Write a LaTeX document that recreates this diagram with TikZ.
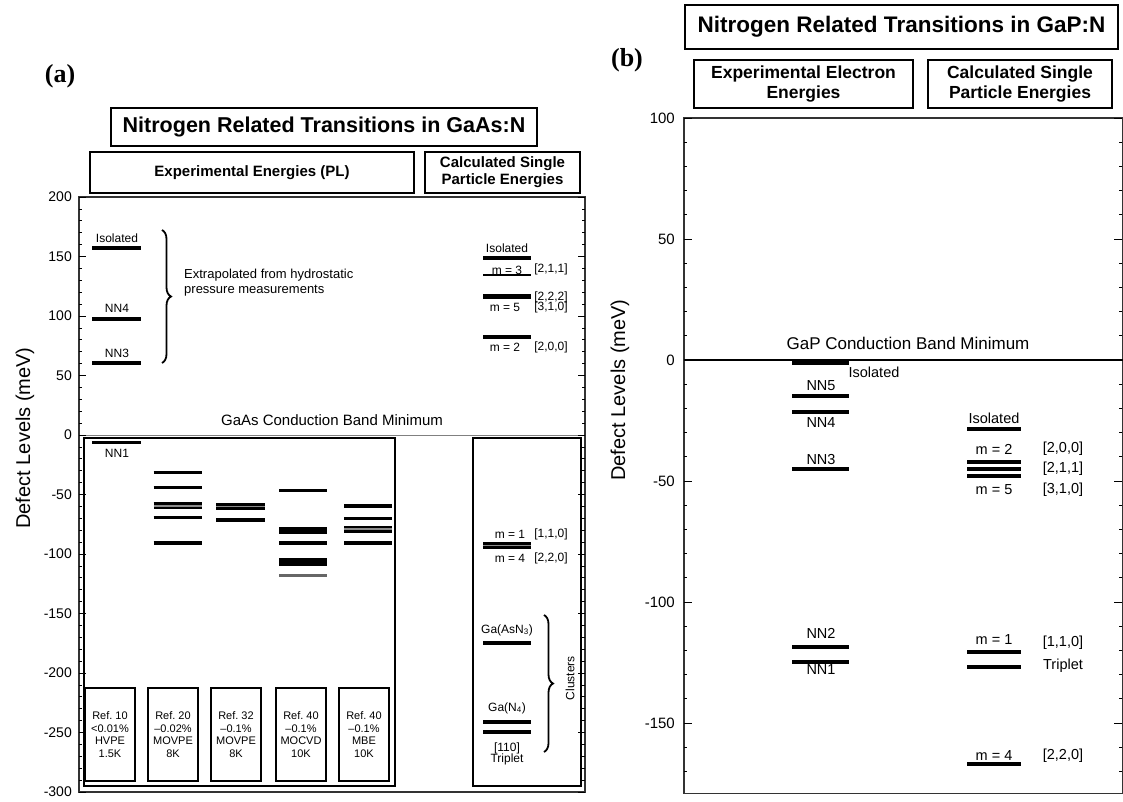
\documentclass[tikz,border=0pt]{standalone}
\usepackage{fontspec}
\setmainfont{Liberation Sans}
\newfontfamily\tagfont{Liberation Serif}
\usetikzlibrary{decorations.pathreplacing}

\begin{document}
\begin{tikzpicture}[x=1pt, y=-1pt,
            hdrbox/.style={draw, line width=1.8pt, align=center, inner sep=0pt},
            refbox/.style={draw, line width=1.5pt, minimum width=50pt, minimum height=93pt, align=center, inner sep=1pt, font=\fontsize{11}{12.5}\selectfont},
            frm/.style={draw=black!80, line width=1.3pt},
            lvl/.style={line width=3.2pt},
            lvlb/.style={line width=4pt},
            band/.style={line width=7pt},
            bandmid/.style={black!45, line width=1.2pt},
            tck/.style={line width=0.8pt},
            lab/.style={inner sep=0pt, font=\fontsize{12}{13}\selectfont},
            labb/.style={inner sep=0pt, font=\fontsize{14.5}{16}\selectfont},
            paneltag/.style={inner sep=0pt, font=\tagfont\bfseries\fontsize{26}{28}\selectfont},
            brc/.style={decorate, decoration={brace, amplitude=9pt}, line width=1.8pt}]
            \fill[white] (0,0) rectangle (1123,801);
            \useasboundingbox (0,0) rectangle (1123,801);

            \node[paneltag] (taga) at (60,76) {(a)};
            \node[hdrbox, minimum width=426pt, minimum height=38pt, font=\bfseries\fontsize{21.5}{24}\selectfont] (tita) at (324,127) {Nitrogen Related Transitions in GaAs:N};
            \node[hdrbox, minimum width=324pt, minimum height=41pt, font=\bfseries\fontsize{15}{17}\selectfont] (expa) at (252,172.5) {Experimental Energies (PL)};
            \node[hdrbox, minimum width=155pt, minimum height=41pt, font=\bfseries\fontsize{15}{17}\selectfont] (calca) at (502.5,172.5) {Calculated Single\\Particle Energies};

            \begin{scope}[shift={(0,435)}, yscale=-1.19]
            \draw[frm] (79,-300) rectangle (585,200);
            \draw[black!50, line width=1pt] (79,0) -- (585,0);
            \draw[line width=1.5pt] (84,-2.5) rectangle (395,-295);
            \draw[line width=1.5pt] (473,-2.5) rectangle (581,-295);
            \foreach \v in {-300,-290,...,200} {
                \draw[tck] (79,\v) -- (82,\v);
                \draw[tck] (585,\v) -- (582,\v);
            }
            \foreach \v in {-300,-250,...,200} {
                \draw[tck] (79,\v) -- (86,\v);
                \draw[tck] (585,\v) -- (578,\v);
                \node[anchor=east, inner sep=0pt, font=\fontsize{14}{14}\selectfont] (ya\v) at (72,\v) {\v};
            }
            \node[rotate=90, font=\fontsize{20}{20}\selectfont] (ylaba) at (25,-2.5) {Defect Levels (meV)};
            \node[font=\fontsize{15}{15}\selectfont] (cbma) at (332,12.6) {GaAs Conduction Band Minimum};
            \node[anchor=west, align=left, inner sep=0pt, font=\fontsize{13}{15}\selectfont] (extra) at (184,127.7) {Extrapolated from hydrostatic\\pressure measurements};

            \foreach \v in {157.1,97.5,60.5,-6.3} \draw[lvl] (92,\v) -- (141,\v);
            \node[lab] (isoa) at (117,165.5) {Isolated};
            \node[lab] (nn4a) at (117,106.7) {NN4};
            \node[lab] (nn3a) at (117,68.9) {NN3};
            \node[lab] (nn1a) at (117,-15.1) {NN1};

            \foreach \v in {-31.6,-43.9,-69.5,-90.7} \draw[lvl] (153.5,\v) -- (201.5,\v);
            \draw[band] (153.5,-59.6) -- (201.5,-59.6);
            \draw[bandmid] (153.5,-59.6) -- (201.5,-59.6);
            \draw[lvl] (216,-71.4) -- (264.5,-71.4);
            \draw[band] (216,-60.1) -- (264.5,-60.1);
            \draw[bandmid] (216,-60.1) -- (264.5,-60.1);
            \foreach \v in {-46.7,-90.8,-105,-108.4} \draw[lvl] (279,\v) -- (327,\v);
            \draw[band] (279,-79.9) -- (327,-79.9);
            \draw[lvl, black!60] (279,-118.2) -- (327,-118.2);
            \foreach \v in {-59.7,-70,-90.8} \draw[lvl] (344,\v) -- (392,\v);
            \draw[band] (344,-79) -- (392,-79);
            \draw[bandmid] (344,-79) -- (392,-79);

            \foreach \x/\r/\c/\m/\t in {110/10/<0.01\%/HVPE/1.5K, 173/20/--0.02\%/MOVPE/8K, 236/32/--0.1\%/MOVPE/8K, 301/40/--0.1\%/MOCVD/10K, 364/40/--0.1\%/MBE/10K}
                \node[refbox] (ref\x) at (\x,-251.7) {Ref.~\r\\\c\\\m\\\t};

            \foreach \v in {148.7,82.4,-174.8,-241.2,-249.6} \draw[lvl] (483,\v) -- (531,\v);
            \draw[line width=2pt] (483,134.5) -- (531,134.5);
            \draw[line width=5pt] (483,116.3) -- (531,116.3);
            \draw[band] (483,-93) -- (531,-93);
            \draw[bandmid] (483,-93) -- (531,-93);
            \node[lab] (isoc) at (507,157) {Isolated};
            \node[lab] (m3a) at (507,138.7) {m = 3};
            \node[lab] (s211a) at (551,139.5) {[2,1,1]};
            \node[lab] (s222a) at (551,116) {[2,2,2]};
            \node[lab] (m5a) at (505,107.6) {m = 5};
            \node[lab] (s310a) at (551,107.6) {[3,1,0]};
            \node[lab] (m2a) at (505,74) {m = 2};
            \node[lab] (s200a) at (551,74) {[2,0,0]};
            \node[lab] (m1a) at (510,-83.2) {m = 1};
            \node[lab] (s110a) at (551,-83.2) {[1,1,0]};
            \node[lab] (m4a) at (510,-103.4) {m = 4};
            \node[lab] (s220a) at (551,-103.4) {[2,2,0]};
            \node[lab] (gaasn) at (507,-163.9) {Ga(AsN\textsubscript{3})};
            \node[lab] (gan) at (507,-229.4) {Ga(N\textsubscript{4})};
            \node[lab] (s110c) at (507,-263) {[110]};
            \node[lab] (tripa) at (507,-272.3) {Triplet};
            \node[lab, rotate=90] (clus) at (570,-204.2) {Clusters};
            \end{scope}
            \draw[brc] (162,230) -- (162,363);
            \draw[brc] (544,615) -- (544,752);

            \node[paneltag] (tagb) at (627,60) {(b)};
            \node[hdrbox, minimum width=433pt, minimum height=44pt, font=\bfseries\fontsize{22.5}{25}\selectfont] (titb) at (901.5,27) {Nitrogen Related Transitions in GaP:N};
            \node[hdrbox, minimum width=219pt, minimum height=48pt, font=\bfseries\fontsize{17.5}{20}\selectfont] (expb) at (803.5,84) {Experimental Electron\\Energies};
            \node[hdrbox, minimum width=184pt, minimum height=48pt, font=\bfseries\fontsize{17.5}{20}\selectfont] (calcb) at (1020,84) {Calculated Single\\Particle Energies};

            \begin{scope}[shift={(0,360)}, yscale=-2.42]
            \draw[frm] (684,-179) rectangle (1122.5,100);
            \draw[line width=1.3pt] (684,0) -- (1122.5,0);
            \foreach \v in {-170,-160,...,100} {
                \draw[tck] (684,\v) -- (687,\v);
                \draw[tck] (1122,\v) -- (1119,\v);
            }
            \foreach \v in {-150,-100,...,100} {
                \draw[tck] (684,\v) -- (692,\v);
                \draw[tck] (1122,\v) -- (1114,\v);
                \node[anchor=east, inner sep=0pt, font=\fontsize{15}{15}\selectfont] (yb\v) at (675,\v) {\v};
            }
            \node[rotate=90, font=\fontsize{20}{20}\selectfont] (ylabb) at (620,-12.4) {Defect Levels (meV)};
            \node[font=\fontsize{17}{17}\selectfont] (cbmb) at (908,7) {GaP Conduction Band Minimum};

            \draw[line width=4.5pt] (792,-1.2) -- (849,-1.2);
            \foreach \v in {-15,-21.5,-45,-118.5,-124.6} \draw[lvlb] (792,\v) -- (849,\v);
            \node[labb] (isob) at (874,-5) {Isolated};
            \node[labb] (nn5b) at (821,-10.7) {NN5};
            \node[labb] (nn4b) at (821,-26) {NN4};
            \node[labb] (nn3b) at (821,-41) {NN3};
            \node[labb] (nn2b) at (821,-112.8) {NN2};
            \node[labb] (nn1b) at (821,-127.7) {NN1};

            \foreach \v in {-28.5,-42,-45,-48,-120.7,-126.9,-167} \draw[lvlb] (967,\v) -- (1021,\v);
            \node[labb] (isod) at (994,-24) {Isolated};
            \node[labb] (m2b) at (994,-36.8) {m = 2};
            \node[labb] (m5b) at (994,-53.7) {m = 5};
            \node[labb] (m1b) at (994,-115.7) {m = 1};
            \node[labb] (m4b) at (994,-163.6) {m = 4};
            \node[labb] (s200b) at (1063,-36.8) {[2,0,0]};
            \node[labb] (s211b) at (1063,-45) {[2,1,1]};
            \node[labb] (s310b) at (1063,-53.7) {[3,1,0]};
            \node[labb] (s110b) at (1063,-117) {[1,1,0]};
            \node[labb] (tripb) at (1063,-126.5) {Triplet};
            \node[labb] (s220b) at (1063,-163.6) {[2,2,0]};
            \end{scope}
\end{tikzpicture}
\end{document}
